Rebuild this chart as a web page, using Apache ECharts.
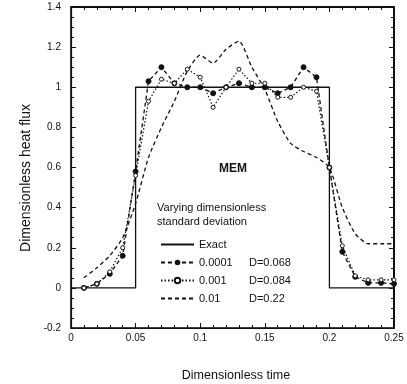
<!DOCTYPE html>
<html>
<head>
<meta charset="utf-8">
<script src="https://cdn.jsdelivr.net/npm/echarts@6/dist/echarts.min.js"></script>
<style>
  html, body { margin: 0; padding: 0; background: #fff; }
  #main { width: 407px; height: 384px; }
</style>
</head>
<body>
<div id="main"></div>
<script>
// dimensionless time of the estimated points
var times = [0.01, 0.02, 0.03, 0.04, 0.05, 0.06, 0.07, 0.08, 0.09, 0.10, 0.11, 0.12, 0.13,
             0.14, 0.15, 0.16, 0.17, 0.18, 0.19, 0.20, 0.21, 0.22, 0.23, 0.24, 0.25];
// exact square pulse
var exactX = [0, 0.05, 0.05, 0.2, 0.2, 0.25];
var exactY = [0, 0, 1, 1, 0, 0];
// MEM estimates for each standard deviation
var est0001 = [0, 0.02, 0.07, 0.16, 0.58, 1.03, 1.10, 1.02, 1.0, 1.0, 0.97, 1.0, 1.02,
               1.0, 1.0, 0.97, 1.0, 1.10, 1.05, 0.6, 0.18, 0.055, 0.025, 0.025, 0.02];
var est001 = [0, 0.02, 0.08, 0.20, 0.56, 0.93, 1.04, 1.02, 1.09, 1.05, 0.90, 1.0, 1.09,
              1.02, 1.02, 0.95, 0.95, 1.0, 0.98, 0.6, 0.21, 0.06, 0.04, 0.04, 0.04];
var est01 = [0.05, 0.10, 0.16, 0.25, 0.42, 0.65, 0.80, 0.93, 1.08, 1.16, 1.12, 1.19, 1.23,
             1.10, 0.99, 0.83, 0.72, 0.68, 0.65, 0.60, 0.40, 0.27, 0.22, 0.22, 0.22];
var sigmaNames = ['0.0001', '0.001', '0.01'];
var dNames = ['D=0.068', 'D=0.084', 'D=0.22'];

function pairs(xs, ys) {
    return xs.map(function (x, i) { return [x, ys[i]]; });
}

var myChart = echarts.init(document.getElementById('main'));
var ink = '#111';
var font = 'Liberation Sans, Arial, sans-serif';

function axis(extra) {
    var a = {
        axisLine: { show: true, onZero: false, lineStyle: { color: ink, width: 1.2 } },
        axisTick: { show: true, inside: true, length: 5, lineStyle: { color: ink } },
        splitLine: { show: false },
        axisLabel: { color: ink, fontSize: 10, fontFamily: font }
    };
    return Object.assign(a, extra);
}

var option = {
    backgroundColor: '#fff',
    animation: false,
    grid: {
        left: 71, right: 13, top: 7, bottom: 56,
        outerBoundsMode: 'none',
        show: true, borderColor: '#000', borderWidth: 1.5
    },
    title: [
        { text: 'MEM', left: 219, top: 163, padding: 0,
          textStyle: { fontSize: 12, fontWeight: 'bold', color: ink, fontFamily: font } },
        { text: 'Varying dimensionless\nstandard deviation', left: 157, top: 201, padding: 0,
          textStyle: { fontSize: 11, fontWeight: 'normal', color: ink, fontFamily: font, lineHeight: 14 } }
    ],
    legend: {
        orient: 'vertical',
        left: 160, top: 239, padding: 0,
        itemWidth: 33, itemHeight: 7, itemGap: 7,
        data: [
            { name: 'Exact', itemStyle: { opacity: 0 } },
            { name: sigmaNames[0] },
            { name: sigmaNames[1] },
            { name: sigmaNames[2], itemStyle: { opacity: 0 } }
        ],
        textStyle: {
            color: ink, fontSize: 11, fontFamily: font,
            rich: {
                a: { width: 50, fontSize: 11, fontFamily: font, color: ink },
                b: { fontSize: 11, fontFamily: font, color: ink }
            }
        },
        formatter: function (name) {
            var i = sigmaNames.indexOf(name);
            if (i < 0) return name;
            return '{a|' + name + '}{b|' + dNames[i] + '}';
        }
    },
    xAxis: [
        axis({
            type: 'value', min: 0, max: 0.25, interval: 0.05,
            minorTick: { show: true, splitNumber: 5, length: 3, lineStyle: { color: ink } },
            name: 'Dimensionless time', nameLocation: 'middle', nameGap: 41,
            nameTextStyle: { color: ink, fontSize: 12.5, fontFamily: font, padding: [0, 0, 0, 7] },
            axisLabel: { color: ink, fontSize: 10, fontFamily: font, margin: 5 }
        }),
        {
            type: 'value', position: 'top', min: 0, max: 0.25, interval: 0.05,
            axisLine: { show: true, onZero: false, lineStyle: { color: '#000', width: 1.5 } },
            axisTick: { show: true, inside: true, length: 5, lineStyle: { color: ink } },
            minorTick: { show: true, splitNumber: 5, length: 3, lineStyle: { color: ink } },
            splitLine: { show: false },
            axisLabel: { show: false }
        }
    ],
    yAxis: [
        axis({
            type: 'value', min: -0.2, max: 1.4, interval: 0.2,
            minorTick: { show: true, splitNumber: 4, length: 3, lineStyle: { color: ink } },
            name: 'Dimensionless heat flux', nameLocation: 'middle', nameGap: 34,
            nameTextStyle: { color: ink, fontSize: 14, fontFamily: font, padding: [0, 21, 0, 0] },
            axisLabel: { color: ink, fontSize: 10, fontFamily: font, margin: 10 }
        }),
        {
            type: 'value', position: 'right', min: -0.2, max: 1.4, interval: 0.2,
            axisLine: { show: true, onZero: false, lineStyle: { color: '#000', width: 1.5 } },
            axisTick: { show: true, inside: true, length: 5, lineStyle: { color: ink } },
            minorTick: { show: true, splitNumber: 4, length: 3, lineStyle: { color: ink } },
            splitLine: { show: false },
            axisLabel: { show: false }
        }
    ],
    series: [
        {
            name: 'Exact', type: 'line', symbol: 'none',
            data: pairs(exactX, exactY),
            lineStyle: { color: ink, width: 1.3, type: 'solid' },
            itemStyle: { color: ink }
        },
        {
            name: sigmaNames[0], type: 'line', symbol: 'circle', symbolSize: 5,
            data: pairs(times, est0001),
            lineStyle: { color: ink, width: 1.3, type: [4, 3] },
            itemStyle: { color: ink, borderColor: ink }
        },
        {
            name: sigmaNames[1], type: 'line', symbol: 'circle', symbolSize: 4,
            data: pairs(times, est001),
            lineStyle: { color: ink, width: 1.2, type: [1.5, 2] },
            itemStyle: { color: '#fff', borderColor: ink, borderWidth: 1, borderType: 'solid' }
        },
        {
            name: sigmaNames[2], type: 'line', symbol: 'none', smooth: 0.2,
            data: pairs(times, est01),
            lineStyle: { color: ink, width: 1.3, type: [4, 3] },
            itemStyle: { color: ink }
        }
    ]
};

myChart.setOption(option);
</script>
</body>
</html>
